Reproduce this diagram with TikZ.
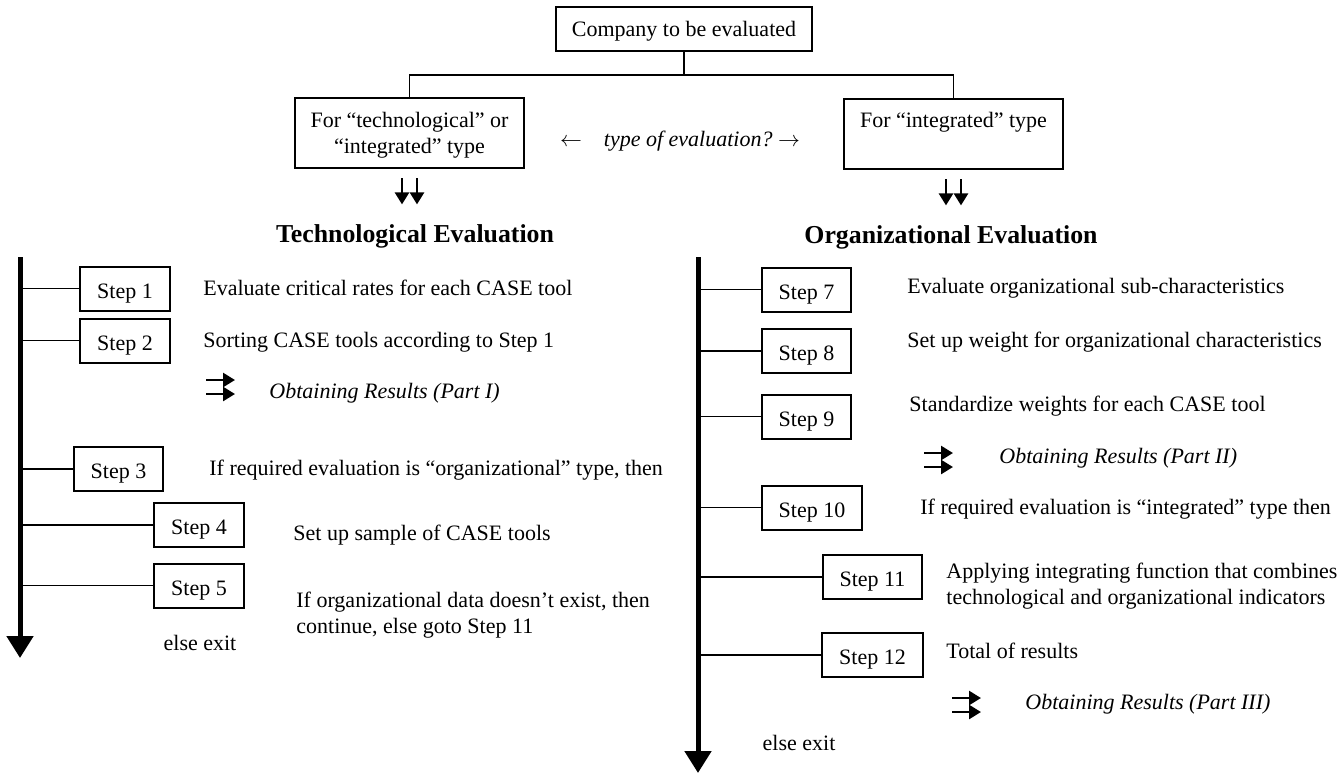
\documentclass[tikz,border=0pt]{standalone}
\usepackage{fontspec}
\setmainfont{Liberation Serif}
\usetikzlibrary{arrows.meta}

\begin{document}
\begin{tikzpicture}[x=0.5pt, y=-0.5pt,
    font=\fontsize{11}{13}\selectfont,
    box/.style={draw, line width=1pt, inner xsep=8pt, inner ysep=0pt, minimum height=22pt, text depth=0pt, align=center},
    stepbox/.style={box, inner xsep=8.5pt, text height=9.5pt},
    txt/.style={anchor=west, inner sep=0pt, align=left},
    res/.style={txt, font=\fontsize{11}{13}\selectfont\itshape},
    head/.style={inner sep=0pt, font=\fontsize{12.9}{15}\selectfont\bfseries},
    link/.style={line width=0.8pt},
    twin/.style={line width=1.3pt, -{Triangle[width=7pt,length=6pt]}},
    flow/.style={line width=2.5pt, -{Triangle[width=13pt,length=11pt]}},
]
\useasboundingbox (0,0) rectangle (1341,773);

% choice of evaluation
\node[box] (comp) at (684,29) {Company to be evaluated};
\node[box, minimum height=35pt] (selL) at (409.5,133) {For “technological” or\\“integrated” type};
\node[box, minimum height=35pt] (selR) at (953.5,134) {For “integrated” type\\[1pt]\phantom{x}};
\coordinate (fork) at (686,75);
\draw[link] (comp.south) -- (comp.south |- fork);
\draw[link] (selL.north) |- (fork) -| (selR.north);
\node (ask) at (680,141) {$\leftarrow$\quad\textit{type of evaluation?}\ $\rightarrow$};

\node[head] (techL) at (415,236) {Technological Evaluation};
\node[head] (orgR) at (951,237) {Organizational Evaluation};
\foreach \dx in {-3.75pt,3.75pt} {
  \draw[twin, shorten <=4.5pt, shorten >=9.7pt] ([xshift=\dx]selL.south) -- ([xshift=\dx]selL.south |- techL.north);
  \draw[twin, shorten <=4.5pt, shorten >=9.7pt] ([xshift=\dx]selR.south) -- ([xshift=\dx]selR.south |- orgR.north);
}

% technological steps
\coordinate (tlL) at (20,257);
\coordinate (tlLend) at (20,658);
\draw[flow] (tlL) -- (tlLend);
\node[stepbox] (s1) at (125,288.5) {Step 1};
\node[stepbox] (s2) at (125,340.5) {Step 2};
\node[stepbox] (s3) at (118.5,469) {Step 3};
\node[stepbox] (s4) at (199,525) {Step 4};
\node[stepbox] (s5) at (199,585.5) {Step 5};
\node[txt] (d1) at (203,288) {Evaluate critical rates for each CASE tool};
\node[txt] (d2) at (203,342) {Sorting CASE tools according to Step 1};
\coordinate (r1) at (206,387);
\node[res] (o1) at (269,393) {Obtaining Results (Part I)};
\node[txt] (d3) at (209,470) {If required evaluation is “organizational” type, then};
\node[txt] (d4) at (293,535) {Set up sample of CASE tools};
\node[txt] (d5) at (296,615.5) {If organizational data doesn’t exist, then\\continue, else goto Step 11};
\node (xL) at (200,643) {else exit};
\foreach \s in {s1,s2,s3,s4,s5}
  \draw[link] (\s.west) -- (\s.west -| tlL);

% organizational steps
\coordinate (tlR) at (698,257);
\coordinate (tlRend) at (698,773);
\draw[flow] (tlR) -- (tlRend);
\node[stepbox] (s7) at (806.5,289.5) {Step 7};
\node[stepbox] (s8) at (806.5,351) {Step 8};
\node[stepbox] (s9) at (806.5,416.5) {Step 9};
\node[stepbox] (s10) at (812,507.5) {Step 10};
\node[stepbox] (s11) at (872.5,577) {Step 11};
\node[stepbox] (s12) at (872.5,655) {Step 12};
\node[txt] (d7) at (907,288) {Evaluate organizational sub-characteristics};
\node[txt] (d8) at (907,342) {Set up weight for organizational characteristics};
\node[txt] (d9) at (909,406) {Standardize weights for each CASE tool};
\coordinate (r2) at (924,460);
\node[res] (o2) at (999,458) {Obtaining Results (Part II)};
\node[txt] (d10) at (920,509) {If required evaluation is “integrated” type then};
\node[txt] (d11) at (946,586) {Applying integrating function that combines\\technological and organizational indicators};
\node[txt] (d12) at (946,651) {Total of results};
\coordinate (r3) at (952,705);
\node[res] (o3) at (1025,704) {Obtaining Results (Part III)};
\node (xR) at (799,743) {else exit};
\foreach \s in {s7,s8,s9,s10,s11,s12}
  \draw[link] (\s.west) -- (\s.west -| tlR);

% results markers
\foreach \r in {r1,r2,r3} {
  \draw[twin] ([yshift=3.5pt]\r) -- ++(29,0);
  \draw[twin] ([yshift=-3.5pt]\r) -- ++(29,0);
}
\end{tikzpicture}
\end{document}
